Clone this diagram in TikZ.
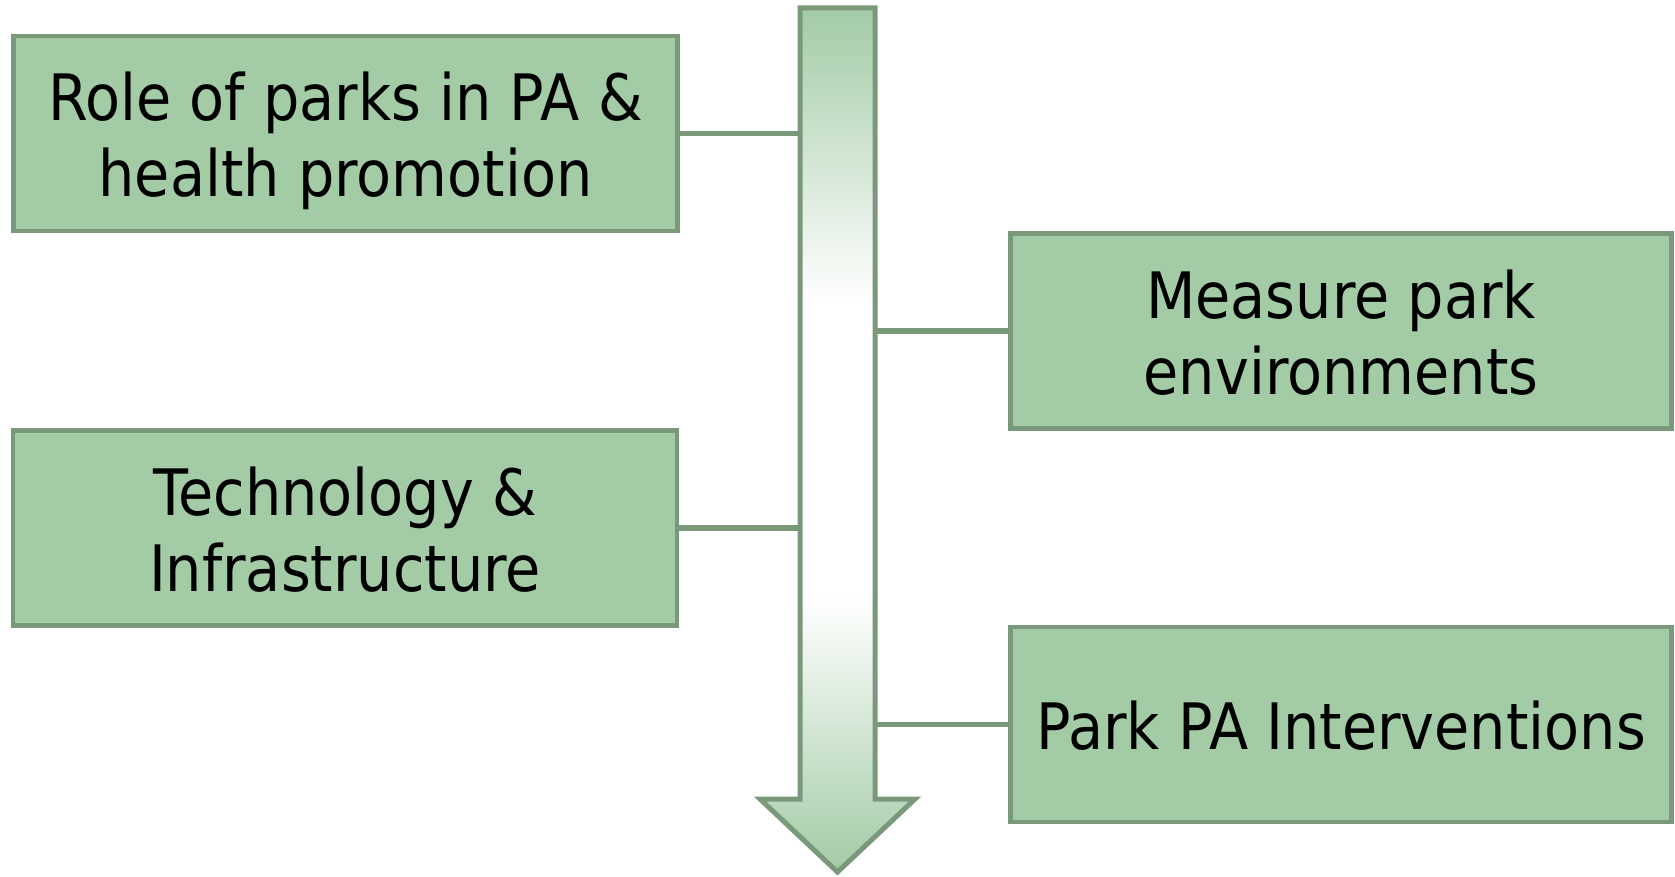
\documentclass[tikz,border=0pt]{standalone}
\usepackage{fontspec}
\setmainfont[FakeStretch=0.895]{DejaVu Sans}
\definecolor{boxfill}{RGB}{163,203,166}
\definecolor{boxline}{RGB}{122,152,122}
\pgfdeclareverticalshading{arrowshade}{100bp}{color(0bp)=(boxfill); color(25bp)=(boxfill); color(41bp)=(white); color(58bp)=(white); color(75bp)=(boxfill); color(100bp)=(boxfill)}
\newcommand{\tline}[1]{\rule{0pt}{50.6pt}\smash{#1}}
\begin{document}
\begin{tikzpicture}[x=1pt,y=-1pt,
  box/.style={draw=boxline, fill=boxfill, line width=4.5pt, align=center,
    font=\fontsize{64}{76}\selectfont, inner sep=0pt, minimum height=195pt},
  conn/.style={draw=boxline, line width=5.5pt}]
\useasboundingbox (0,0) rectangle (1675,877);
% arrow
\draw[boxline, line width=5pt, shading=arrowshade]
  (800,8) -- (875,8) -- (875,799) -- (915,799) -- (837.5,872) -- (760,799) -- (800,799) -- cycle;
\coordinate (shaftL) at (800,0);
\coordinate (shaftR) at (875,0);
% boxes
\node[box, minimum width=664pt] (b1) at (345.5,133.5) {\tline{Role of parks in PA \&}\\\tline{health promotion}};
\node[box, minimum width=664pt] (b2) at (345,528) {\tline{Technology \&}\\\tline{Infrastructure}};
\node[box, minimum width=661pt] (b3) at (1341,331) {\tline{Measure park}\\\tline{environments}};
\node[box, minimum width=661pt] (b4) at (1341,724.5) {\tline{Park PA Interventions}};
% connectors
\draw[conn] (b1.east) -- (b1.east -| shaftL);
\draw[conn] (b2.east) -- (b2.east -| shaftL);
\draw[conn] (b3.west) -- (b3.west -| shaftR);
\draw[conn] (b4.west) -- (b4.west -| shaftR);
\end{tikzpicture}
\end{document}
